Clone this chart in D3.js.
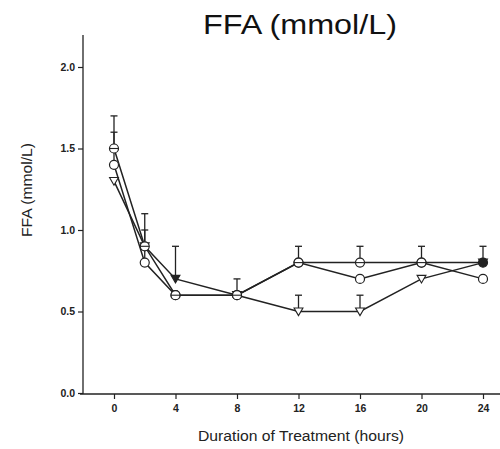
<!DOCTYPE html>
<html>
<head>
<meta charset="utf-8">
<script src="https://cdn.jsdelivr.net/npm/d3@7"></script>
<style>
body{margin:0;background:#fff;}
svg{display:block;}
</style>
</head>
<body>
<svg id="chart" width="500" height="449"></svg>
<script>
// hours
let hours=[0,2,4,8,12,16,20,24];
let yTicks=[0,0.5,1.0,1.5,2.0];
let xTicks=[0,4,8,12,16,20,24];
// series
let openCircle=[1.4,0.8,0.6,0.6,0.8,0.7,0.8,0.7];
let openCircleErr=[0.2,0.2,0,0,0,0,0,0];
let barCircle=[1.5,0.9,0.6,0.6,0.8,0.8,0.8,0.8];
let barCircleErr=[0.2,0.2,0,0.1,0.1,0.1,0.1,0.1];
let triangle=[1.3,0.9,0.7,0.6,0.5,0.5,0.7,0.8];
let triangleErr=[0,0,0.2,0,0.1,0.1,0,0];

function draw()
{
    const svg=d3.select("#chart");
    const x=d3.scaleLinear().domain([0,24]).range([114,483]);
    const y=d3.scaleLinear().domain([0,2]).range([393,67]);
    const font="'Liberation Sans', Arial, sans-serif";

    // axes
    let gy=svg.append("g").attr("transform","translate(83,0)")
        .call(d3.axisLeft(y).tickValues(yTicks).tickFormat(d3.format(".1f")).tickSize(5).tickSizeOuter(0));
    let gx=svg.append("g").attr("transform","translate(0,394)")
        .call(d3.axisBottom(x).tickValues(xTicks).tickSize(5).tickSizeOuter(0));
    [gx,gy].forEach(g=>{
        g.select(".domain").remove();
        g.selectAll("line").attr("stroke","#222").attr("stroke-width",1.2);
        g.selectAll("text").attr("font-family",font).attr("font-size",10.5)
          .attr("font-weight","bold").attr("fill","#222");
    });
    gy.selectAll("text").attr("x",-8);
    gx.selectAll("text").attr("y",11);
    svg.append("line").attr("x1",83).attr("x2",83).attr("y1",35).attr("y2",394)
        .attr("stroke","#222").attr("stroke-width",1.3);
    svg.append("line").attr("x1",80).attr("x2",500).attr("y1",394).attr("y2",394)
        .attr("stroke","#222").attr("stroke-width",1.3);

    const series=[
        {vals:openCircle,err:openCircleErr,kind:"circle"},
        {vals:triangle,err:triangleErr,kind:"tri"},
        {vals:barCircle,err:barCircleErr,kind:"barcircle"}
    ];
    const line=d3.line().x((d,i)=>x(hours[i])).y(d=>y(d));

    // error bars
    series.forEach(s=>{
        s.vals.forEach((v,i)=>{
            if(!s.err[i]) return;
            let g=svg.append("g").attr("stroke","#222").attr("stroke-width",1.3);
            g.append("line").attr("x1",x(hours[i])).attr("x2",x(hours[i]))
              .attr("y1",y(v)).attr("y2",y(v+s.err[i]));
            g.append("line").attr("x1",x(hours[i])-3.5).attr("x2",x(hours[i])+3.5)
              .attr("y1",y(v+s.err[i])).attr("y2",y(v+s.err[i]));
        });
    });
    // lines
    series.forEach(s=>{
        svg.append("path").datum(s.vals).attr("d",line)
          .attr("fill","none").attr("stroke","#222").attr("stroke-width",1.5);
    });
    // markers
    series.forEach(s=>{
        s.vals.forEach((v,i)=>{
            let cx=x(hours[i]),cy=y(v);
            let filled=(s.kind=="barcircle" && i==7);
            if(s.kind=="tri"){
                let fill=(i==2)?"#222":"#fff";
                svg.append("path")
                  .attr("d",d3.symbol().type(d3.symbolTriangle).size(34)())
                  .attr("transform","translate("+cx+","+(cy-1)+") rotate(180)")
                  .attr("fill",fill).attr("stroke","#222").attr("stroke-width",1.1);
            }
            else{
                svg.append("circle").attr("cx",cx).attr("cy",cy).attr("r",4.5)
                  .attr("fill",filled?"#222":"#fff").attr("stroke","#222").attr("stroke-width",1.2);
                if(s.kind=="barcircle" && !filled){
                    svg.append("line").attr("x1",cx-4.5).attr("x2",cx+4.5).attr("y1",cy).attr("y2",cy)
                      .attr("stroke","#222").attr("stroke-width",1.1);
                }
            }
        });
    });

    // titles
    svg.append("text").attr("x",300).attr("y",34).attr("text-anchor","middle")
      .attr("font-family",font).attr("font-size",27).attr("fill","#111")
      .attr("textLength",194).attr("lengthAdjust","spacingAndGlyphs").text("FFA (mmol/L)");
    svg.append("text").attr("transform","translate(32,190) rotate(-90)").attr("text-anchor","middle")
      .attr("font-family",font).attr("font-size",14).attr("fill","#222")
      .attr("textLength",94).attr("lengthAdjust","spacingAndGlyphs").text("FFA (mmol/L)");
    svg.append("text").attr("x",301).attr("y",441).attr("text-anchor","middle")
      .attr("font-family",font).attr("font-size",14).attr("fill","#222")
      .attr("textLength",206).attr("lengthAdjust","spacingAndGlyphs").text("Duration of Treatment (hours)");
}
draw();
</script>
</body>
</html>
